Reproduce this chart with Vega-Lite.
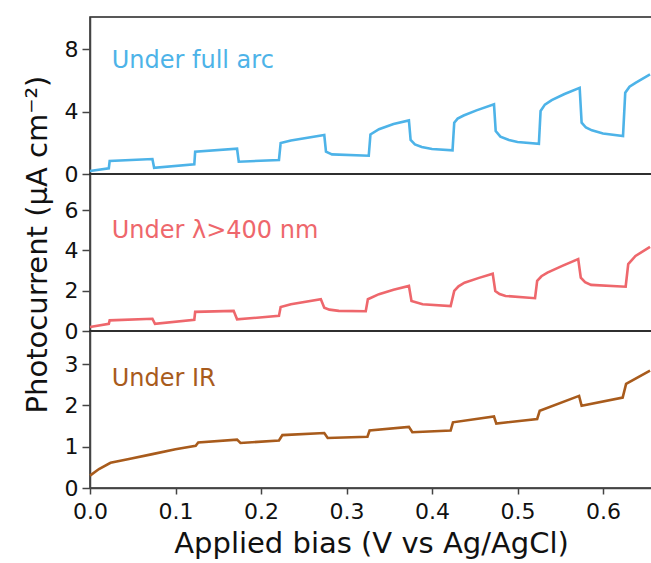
{
  "$schema": "https://vega.github.io/schema/vega-lite/v6.json",
  "padding": {"left": 22, "top": 16, "right": 0, "bottom": 0},
  "background": "white",
  "spacing": 0,
  "bounds": "flush",
  "config": {
    "view": {"stroke": "#222", "strokeWidth": 1.5},
    "font": "DejaVu Sans",
    "axis": {"labelFont": "DejaVu Sans", "titleFont": "DejaVu Sans", "grid": false, "domainColor": "#444", "tickColor": "#444", "labelColor": "#111", "titleColor": "#111", "labelFontSize": 22, "titleFontWeight": "normal", "domainWidth": 1.5, "tickWidth": 1.5}
  },
  "datasets": {
    "full": [
      {"x": 0, "y": 0.19}, {"x": 0.022, "y": 0.36}, {"x": 0.023, "y": 0.83}, {"x": 0.073, "y": 0.96}, {"x": 0.075, "y": 0.40},
      {"x": 0.122, "y": 0.62}, {"x": 0.123, "y": 1.43}, {"x": 0.172, "y": 1.62}, {"x": 0.174, "y": 0.79}, {"x": 0.221, "y": 0.90},
      {"x": 0.223, "y": 1.99}, {"x": 0.235, "y": 2.15}, {"x": 0.274, "y": 2.5}, {"x": 0.276, "y": 1.43}, {"x": 0.283, "y": 1.26},
      {"x": 0.326, "y": 1.17}, {"x": 0.328, "y": 2.54}, {"x": 0.338, "y": 2.87}, {"x": 0.355, "y": 3.2}, {"x": 0.373, "y": 3.44},
      {"x": 0.375, "y": 2.18}, {"x": 0.38, "y": 1.9}, {"x": 0.388, "y": 1.73}, {"x": 0.4, "y": 1.6}, {"x": 0.424, "y": 1.52},
      {"x": 0.426, "y": 3.29}, {"x": 0.43, "y": 3.55}, {"x": 0.437, "y": 3.75}, {"x": 0.452, "y": 4.08}, {"x": 0.4725, "y": 4.47},
      {"x": 0.4745, "y": 2.76}, {"x": 0.48, "y": 2.4}, {"x": 0.49, "y": 2.18}, {"x": 0.5, "y": 2.05}, {"x": 0.525, "y": 1.94},
      {"x": 0.527, "y": 4.04}, {"x": 0.532, "y": 4.45}, {"x": 0.54, "y": 4.74}, {"x": 0.555, "y": 5.13}, {"x": 0.5727, "y": 5.53},
      {"x": 0.575, "y": 3.29}, {"x": 0.58, "y": 2.98}, {"x": 0.587, "y": 2.8}, {"x": 0.6, "y": 2.6}, {"x": 0.6234, "y": 2.44},
      {"x": 0.626, "y": 5.21}, {"x": 0.631, "y": 5.6}, {"x": 0.638, "y": 5.85}, {"x": 0.655, "y": 6.39}
    ],
    "vis": [
      {"x": 0, "y": 0.2}, {"x": 0.022, "y": 0.36}, {"x": 0.023, "y": 0.53}, {"x": 0.073, "y": 0.61}, {"x": 0.076, "y": 0.36},
      {"x": 0.122, "y": 0.56}, {"x": 0.123, "y": 0.95}, {"x": 0.168, "y": 1.0}, {"x": 0.172, "y": 0.58}, {"x": 0.221, "y": 0.75},
      {"x": 0.223, "y": 1.19}, {"x": 0.235, "y": 1.33}, {"x": 0.27, "y": 1.58}, {"x": 0.274, "y": 1.16}, {"x": 0.28, "y": 1.06},
      {"x": 0.291, "y": 1.0}, {"x": 0.3225, "y": 0.98}, {"x": 0.325, "y": 1.58}, {"x": 0.338, "y": 1.83}, {"x": 0.355, "y": 2.05},
      {"x": 0.373, "y": 2.24}, {"x": 0.376, "y": 1.49}, {"x": 0.389, "y": 1.33}, {"x": 0.4218, "y": 1.24}, {"x": 0.426, "y": 1.99},
      {"x": 0.431, "y": 2.22}, {"x": 0.438, "y": 2.4}, {"x": 0.455, "y": 2.64}, {"x": 0.471, "y": 2.85}, {"x": 0.474, "y": 1.99},
      {"x": 0.479, "y": 1.84}, {"x": 0.486, "y": 1.74}, {"x": 0.5205, "y": 1.63}, {"x": 0.523, "y": 2.49}, {"x": 0.528, "y": 2.72},
      {"x": 0.535, "y": 2.9}, {"x": 0.553, "y": 3.25}, {"x": 0.571, "y": 3.57}, {"x": 0.574, "y": 2.65}, {"x": 0.579, "y": 2.43},
      {"x": 0.586, "y": 2.29}, {"x": 0.6265, "y": 2.2}, {"x": 0.6295, "y": 3.32}, {"x": 0.638, "y": 3.73}, {"x": 0.655, "y": 4.18}
    ],
    "ir": [
      {"x": 0, "y": 0.30}, {"x": 0.0105, "y": 0.46}, {"x": 0.024, "y": 0.61}, {"x": 0.0456, "y": 0.70}, {"x": 0.073, "y": 0.82},
      {"x": 0.1, "y": 0.94}, {"x": 0.1236, "y": 1.02}, {"x": 0.1266, "y": 1.10}, {"x": 0.172, "y": 1.17}, {"x": 0.176, "y": 1.09},
      {"x": 0.221, "y": 1.15}, {"x": 0.225, "y": 1.28}, {"x": 0.274, "y": 1.33}, {"x": 0.278, "y": 1.21}, {"x": 0.3245, "y": 1.24},
      {"x": 0.327, "y": 1.39}, {"x": 0.373, "y": 1.48}, {"x": 0.377, "y": 1.35}, {"x": 0.4218, "y": 1.39}, {"x": 0.4245, "y": 1.59},
      {"x": 0.4725, "y": 1.73}, {"x": 0.4752, "y": 1.56}, {"x": 0.523, "y": 1.67}, {"x": 0.526, "y": 1.87}, {"x": 0.572, "y": 2.23},
      {"x": 0.575, "y": 1.99}, {"x": 0.623, "y": 2.19}, {"x": 0.627, "y": 2.52}, {"x": 0.655, "y": 2.84}
    ]
  },
  "vconcat": [
    {
      "width": 562, "height": 157,
      "layer": [
        {
          "data": {"name": "full"},
          "mark": {"type": "line", "color": "#4db3e8", "strokeWidth": 2.6},
          "encoding": {
            "x": {"field": "x", "type": "quantitative", "scale": {"domain": [0, 0.6573], "nice": false, "zero": false}, "axis": null},
            "y": {"field": "y", "type": "quantitative", "scale": {"domain": [0, 10.07], "nice": false}, "axis": {"values": [0, 4, 8], "title": null, "tickSize": 8, "labelPadding": 4}}
          }
        },
        {
          "data": {"values": [{"x": 0.0254, "y": 6.78, "label": "Under full arc"}]},
          "mark": {"type": "text", "align": "left", "baseline": "alphabetic", "fontSize": 24, "font": "DejaVu Sans", "color": "#4db3e8"},
          "encoding": {
            "x": {"field": "x", "type": "quantitative"},
            "y": {"field": "y", "type": "quantitative"},
            "text": {"field": "label"}
          }
        }
      ]
    },
    {
      "width": 562, "height": 157,
      "layer": [
        {
          "data": {"name": "vis"},
          "mark": {"type": "line", "color": "#ee676c", "strokeWidth": 2.6},
          "encoding": {
            "x": {"field": "x", "type": "quantitative", "scale": {"domain": [0, 0.6573], "nice": false, "zero": false}, "axis": null},
            "y": {"field": "y", "type": "quantitative", "scale": {"domain": [0, 7.8], "nice": false}, "axis": {"values": [0, 2, 4, 6], "title": "Photocurrent (μA cm⁻²)", "titleFontSize": 29, "titlePadding": 12, "titleY": 70, "tickSize": 8, "labelPadding": 4}}
          }
        },
        {
          "data": {"values": [{"x": 0.0254, "y": 4.63, "label": "Under λ>400 nm"}]},
          "mark": {"type": "text", "align": "left", "baseline": "alphabetic", "fontSize": 24, "font": "DejaVu Sans", "color": "#ee676c"},
          "encoding": {
            "x": {"field": "x", "type": "quantitative"},
            "y": {"field": "y", "type": "quantitative"},
            "text": {"field": "label"}
          }
        }
      ]
    },
    {
      "width": 562, "height": 157,
      "layer": [
        {
          "data": {"name": "ir"},
          "mark": {"type": "line", "color": "#a85b1c", "strokeWidth": 2.6},
          "encoding": {
            "x": {"field": "x", "type": "quantitative", "scale": {"domain": [0, 0.6573], "nice": false, "zero": false}, "axis": {"values": [0, 0.1, 0.2, 0.3, 0.4, 0.5, 0.6], "format": ".1f", "title": "Applied bias (V vs Ag/AgCl)", "titleFontSize": 29, "titlePadding": 7, "tickSize": 6, "labelPadding": 7, "labelFlush": false}},
            "y": {"field": "y", "type": "quantitative", "scale": {"domain": [0, 3.8], "nice": false}, "axis": {"values": [0, 1, 2, 3], "title": null, "tickSize": 8, "labelPadding": 4}}
          }
        },
        {
          "data": {"values": [{"x": 0.0254, "y": 2.48, "label": "Under IR"}]},
          "mark": {"type": "text", "align": "left", "baseline": "alphabetic", "fontSize": 24, "font": "DejaVu Sans", "color": "#a85b1c"},
          "encoding": {
            "x": {"field": "x", "type": "quantitative"},
            "y": {"field": "y", "type": "quantitative"},
            "text": {"field": "label"}
          }
        }
      ]
    }
  ]
}
